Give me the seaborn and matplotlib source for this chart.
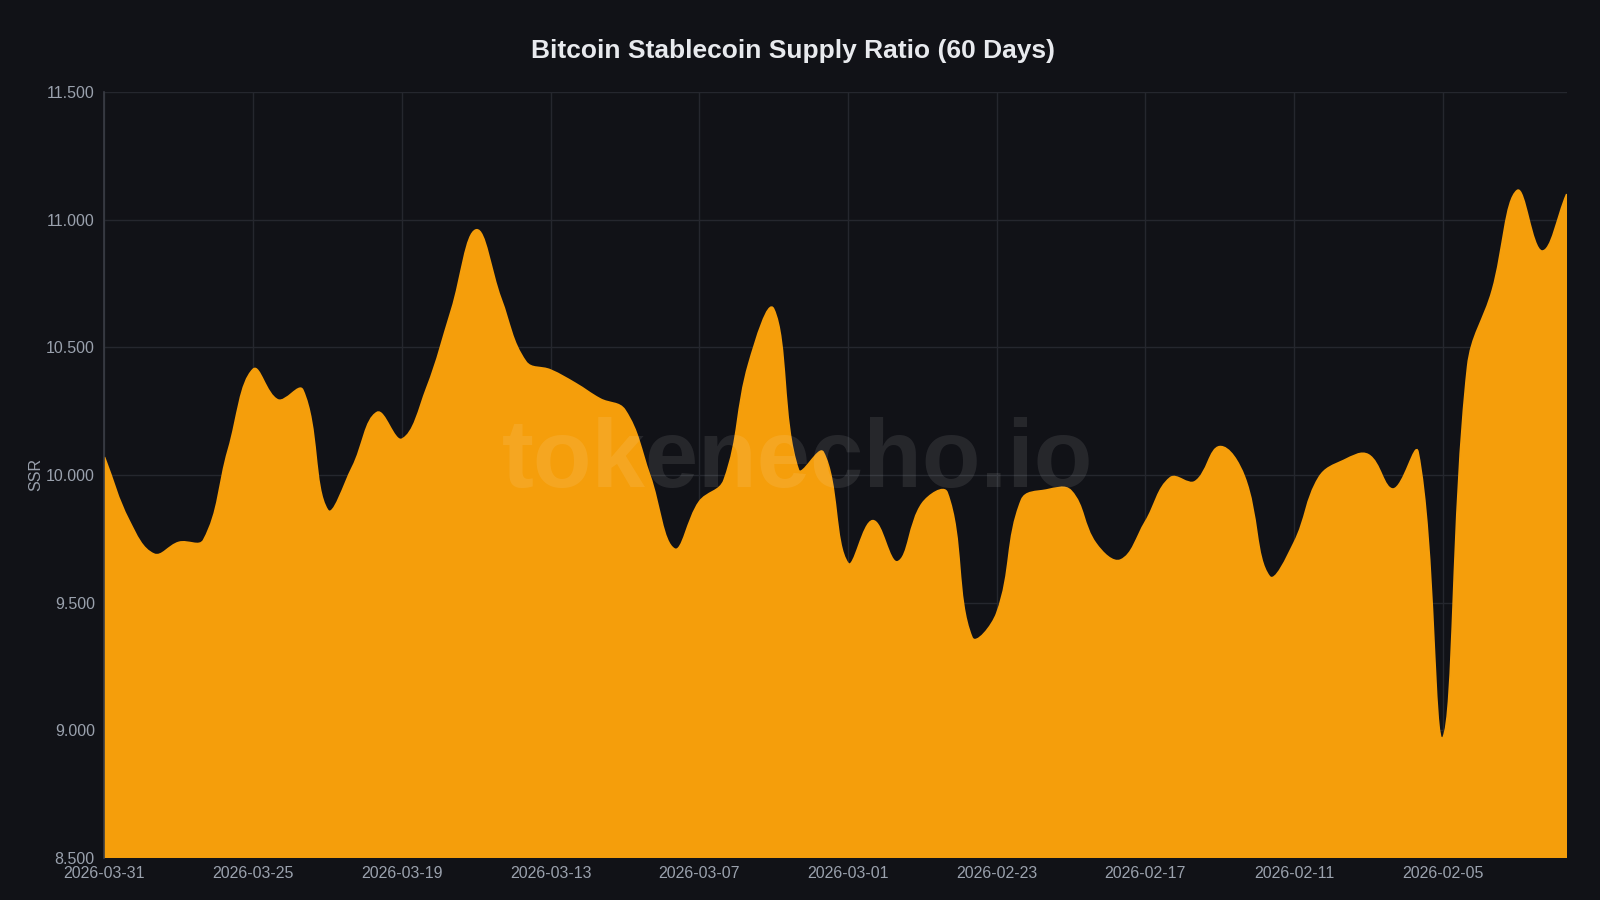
import numpy as np
import pandas as pd
import matplotlib
matplotlib.use("Agg")
import matplotlib.pyplot as plt
import matplotlib.dates as mdates
from matplotlib.path import Path
from matplotlib.patches import PathPatch
import seaborn as sns

# ======================
# DATA (newest -> oldest, as drawn left to right)
# ======================
start_date = "2026-03-31"
n_days = 60
ssr = [
    10.07, 9.82, 9.69, 9.736, 9.745, 10.10, 10.414, 10.294, 10.333, 9.863,
    10.03, 10.245, 10.14, 10.34, 10.646, 10.96, 10.69, 10.444, 10.411, 10.359,
    10.298, 10.254, 10.00, 9.71, 9.895, 9.98, 10.437, 10.65, 10.02, 10.089,
    9.654, 9.821, 9.66, 9.889, 9.931, 9.364, 9.458, 9.902, 9.941, 9.938,
    9.732, 9.667, 9.817, 9.989, 9.974, 10.111, 9.993, 9.603, 9.735, 9.99,
    10.057, 10.079, 9.945, 10.09, 8.97, 10.424, 10.724, 11.114, 10.877, 11.10,
]
tick_dates = ["2026-03-31", "2026-03-25", "2026-03-19", "2026-03-13", "2026-03-07",
              "2026-03-01", "2026-02-23", "2026-02-17", "2026-02-11", "2026-02-05"]
y_ticks = [8.5, 9.0, 9.5, 10.0, 10.5, 11.0, 11.5]

dates = pd.date_range(end=start_date, periods=n_days, freq="D")[::-1]
df = pd.DataFrame({"date": dates, "ssr": ssr})

# ======================
# STYLE
# ======================
BG = "#111217"
FILL = "#F59E0B"
GRID = "#25272e"
TXT = "#9aa1ad"
TENSION = 0.4

sns.set_theme(style="dark")
plt.rcParams["font.family"] = ["Liberation Sans", "DejaVu Sans"]

fig = plt.figure(figsize=(16, 9), dpi=100, facecolor=BG)
ax = fig.add_axes([0.0653, 0.0467, 0.9139, 0.8511])
ax.set_facecolor(BG)

xnum = mdates.date2num(df["date"])
ax.set_xlim(xnum[0], xnum[-1])
ax.set_ylim(8.5, 11.5)


# tension bezier (computed in pixel space) -> filled path in data coords
def tension_path(x, y, base, t):
    P = ax.transData.transform(np.column_stack([x, y]))
    n = len(P)
    cp_prev = P.copy()
    cp_next = P.copy()
    for i in range(n):
        prev = P[i - 1] if i > 0 else P[i]
        nxt = P[i + 1] if i < n - 1 else P[i]
        d01 = np.hypot(*(P[i] - prev))
        d12 = np.hypot(*(nxt - P[i]))
        tot = d01 + d12
        s01 = d01 / tot if tot else 0
        s12 = d12 / tot if tot else 0
        cp_prev[i] = P[i] - t * s01 * (nxt - prev)
        cp_next[i] = P[i] + t * s12 * (nxt - prev)
    # keep control points inside the plot area
    x0, y0 = ax.transData.transform((x[0], 8.5))
    x1, y1 = ax.transData.transform((x[-1], 11.5))
    for cp in (cp_prev, cp_next):
        cp[:, 0] = np.clip(cp[:, 0], x0, x1)
        cp[:, 1] = np.clip(cp[:, 1], y0, y1)
    inv = ax.transData.inverted()
    cp_prev = inv.transform(cp_prev)
    cp_next = inv.transform(cp_next)
    verts = [(x[0], base), (x[0], y[0])]
    codes = [Path.MOVETO, Path.LINETO]
    for k in range(n - 1):
        verts += [tuple(cp_next[k]), tuple(cp_prev[k + 1]), (x[k + 1], y[k + 1])]
        codes += [Path.CURVE4] * 3
    verts += [(x[-1], base), (x[0], base)]
    codes += [Path.LINETO, Path.CLOSEPOLY]
    return Path(verts, codes)


path = tension_path(xnum, df["ssr"].to_numpy(), 8.5, TENSION)
ax.add_patch(PathPatch(path, facecolor=FILL, edgecolor=FILL, linewidth=1.2, zorder=2))

ax.set_yticks(y_ticks)
ax.set_yticklabels([f"{v:.3f}" for v in y_ticks])
tick_num = mdates.date2num(pd.to_datetime(tick_dates))
ax.set_xticks(tick_num)
ax.set_xticklabels(tick_dates)

ax.grid(True, color=GRID, linewidth=1.0, zorder=0)
ax.set_axisbelow(True)
ax.tick_params(axis="both", colors="#5a5e68", labelcolor=TXT, labelsize=11.5,
               length=5, width=1, direction="out", pad=2)
ax.tick_params(axis="x", pad=1)
for side in ["top", "right", "bottom"]:
    ax.spines[side].set_visible(False)
ax.spines["left"].set_color("#3a3d45")
ax.spines["left"].set_linewidth(1.2)

ax.set_ylabel("SSR", color=TXT, fontsize=11.5, labelpad=2)
ax.set_xlabel("")

fig.text(0.4955, 0.943, "Bitcoin Stablecoin Supply Ratio (60 Days)", ha="center", va="center",
         color="#e8eaee", fontsize=19, fontweight="bold")

ax.text(0.4985, 0.487, "tokenecho.io", transform=fig.transFigure, ha="center", va="center",
        fontsize=69, fontweight="bold", color="white", alpha=0.09, zorder=5)

fig.savefig("out.png", dpi=100, facecolor=BG)
